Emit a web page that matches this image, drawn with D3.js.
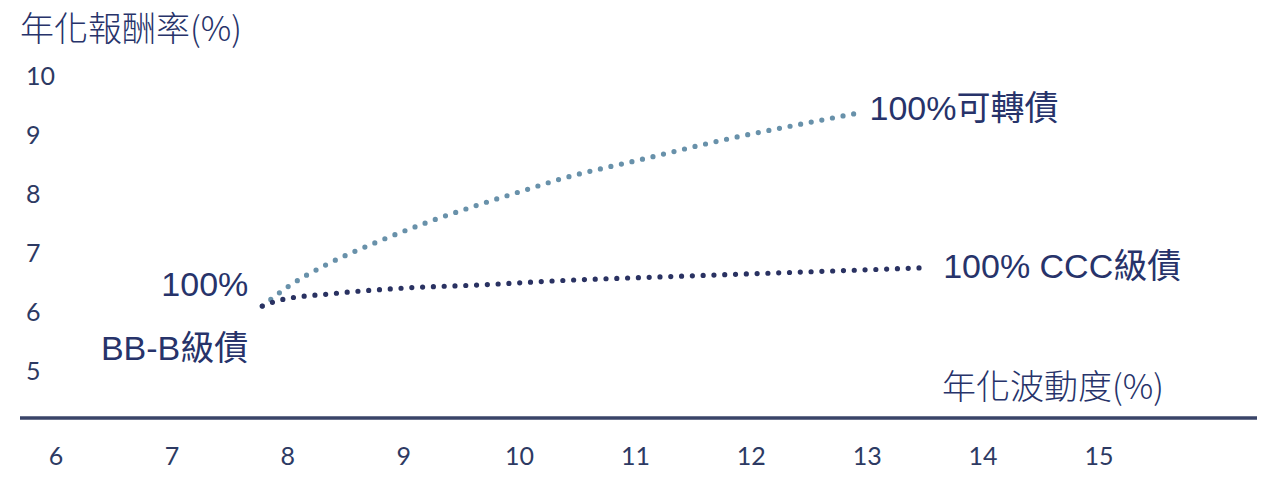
<!DOCTYPE html>
<html>
<head>
<meta charset="utf-8">
<script src="https://cdn.jsdelivr.net/npm/d3@7"></script>
<style>
  html, body { margin: 0; padding: 0; background: #fff; }
  svg { display: block; }
</style>
</head>
<body>
<svg id="chart" width="1282" height="486"></svg>
<script>
// ---- data ----
const xTicks = [6, 7, 8, 9, 10, 11, 12, 13, 14, 15];
const yTicks = [5, 6, 7, 8, 9, 10];
const convX = [7.78, 8.01, 8.33, 8.75, 9.19, 9.62, 10.07, 10.33, 11.06, 11.79, 12.52, 12.89];
const convY = [6.10, 6.44, 6.80, 7.17, 7.51, 7.80, 8.08, 8.24, 8.59, 8.93, 9.22, 9.36];
const cccX = [7.78, 7.93, 8.38, 9.04, 9.67, 10.33, 11.45, 12.48, 13.50];
const cccY = [6.10, 6.20, 6.31, 6.41, 6.46, 6.53, 6.61, 6.68, 6.75];
const yTitle = "年化報酬率(%)";
const xTitle = "年化波動度(%)";
const convLabel = "100%可轉債";
const cccLabel = "100% CCC級債";
const startLabel1 = "100%";
const startLabel2 = "BB-B級債";

// ---- layout ----
const svg = d3.select("#chart");
const x = d3.scaleLinear().domain([6, 15]).range([56, 1099]);
const y = d3.scaleLinear().domain([5, 10]).range([371, 76]);
const textColor = "#27336a";
const tickFont = "Lato, 'Open Sans', sans-serif";
const labelFont = "'Liberation Sans', Arial, 'Noto Sans CJK TC', sans-serif";
const cjkFont = "'Noto Sans CJK TC', 'Liberation Sans', sans-serif";

// y tick labels
svg.append("g").selectAll("text").data(yTicks).join("text")
  .attr("x", 26).attr("y", d => y(d)).attr("dy", "0.35em")
  .attr("font-family", tickFont).attr("font-size", 25)
  .attr("fill", "#2d3a63").text(d => d);

// x axis line
const axisY = 418;
svg.append("line").attr("x1", 20).attr("x2", 1257).attr("y1", axisY).attr("y2", axisY)
  .attr("stroke", "#3a4468").attr("stroke-width", 3.5);

// x tick labels
svg.append("g").selectAll("text").data(xTicks).join("text")
  .attr("x", d => x(d)).attr("y", 456).attr("dy", "0.35em")
  .attr("text-anchor", "middle")
  .attr("font-family", tickFont).attr("font-size", 25)
  .attr("fill", "#2d3a63").text(d => d);

// titles
svg.append("text").attr("x", 20).attr("y", 41)
  .attr("font-family", cjkFont).attr("font-size", 34).attr("font-weight", 300)
  .attr("fill", textColor).text(yTitle);
svg.append("text").attr("x", 942).attr("y", 399)
  .attr("font-family", cjkFont).attr("font-size", 34).attr("font-weight", 300)
  .attr("fill", textColor).text(xTitle);

// lines
const line = d3.line().x(d => x(d[0])).y(d => y(d[1])).curve(d3.curveMonotoneX);
const conv = convX.map((v, i) => [v, convY[i]]);
const ccc = cccX.map((v, i) => [v, cccY[i]]);

svg.append("path").attr("d", line(conv)).attr("fill", "none")
  .attr("stroke", "#6891aa").attr("stroke-width", 5.2)
  .attr("stroke-linecap", "round").attr("stroke-dasharray", "0 10.8");
svg.append("path").attr("d", line(ccc)).attr("fill", "none")
  .attr("stroke", "#2a3262").attr("stroke-width", 5.2)
  .attr("stroke-linecap", "round").attr("stroke-dasharray", "0 10.8");

// labels
const cl = conv[conv.length - 1];
svg.append("text").attr("x", x(cl[0]) + 15).attr("y", y(cl[1]) - 6).attr("dy", "0.35em")
  .attr("font-family", labelFont).attr("font-size", 34)
  .attr("fill", textColor).text(convLabel);
const dl = ccc[ccc.length - 1];
svg.append("text").attr("x", x(dl[0]) + 18).attr("y", y(dl[1]) - 2).attr("dy", "0.35em")
  .attr("font-family", labelFont).attr("font-size", 34)
  .attr("fill", textColor).text(cccLabel);
const s0 = conv[0];
svg.append("text").attr("x", x(s0[0]) - 14).attr("y", y(s0[1]) - 22).attr("dy", "0.35em")
  .attr("text-anchor", "end")
  .attr("font-family", labelFont).attr("font-size", 34)
  .attr("fill", textColor).text(startLabel1);
svg.append("text").attr("x", x(s0[0]) - 14).attr("y", y(s0[1]) + 42).attr("dy", "0.35em")
  .attr("text-anchor", "end")
  .attr("font-family", labelFont).attr("font-size", 34)
  .attr("fill", textColor).text(startLabel2);
</script>
</body>
</html>
